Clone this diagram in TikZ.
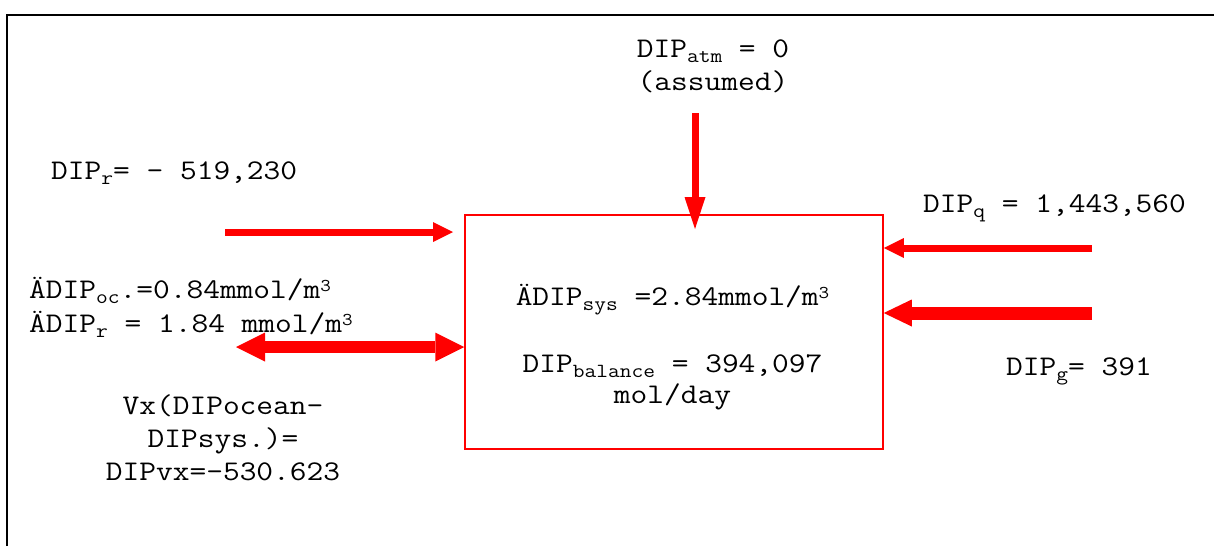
\documentclass[tikz,border=0pt]{standalone}
\usepackage{fontspec}
\setmainfont[FakeStretch=1.14]{Latin Modern Mono}
\usetikzlibrary{arrows.meta}

% lowered and raised small text for indices and exponents
\newcommand{\lowtxt}[1]{\raisebox{-5pt}{\fontsize{20}{20}\selectfont #1}}
\newcommand{\hightxt}[1]{\raisebox{7pt}{\fontsize{18}{18}\selectfont #1}}

\begin{document}
\begin{tikzpicture}[x=1pt, y=-1pt,
  label/.style={inner sep=0pt, font=\fontsize{28.5}{33}\selectfont},
  flowthin/.style={draw=red, line width=7pt},
  flowthick/.style={draw=red, line width=13pt},
  tipA/.tip={Triangle[length=20pt, width=20pt, line width=0pt]},
  tipB/.tip={Triangle[length=29pt, width=29pt, line width=0pt]}]

\useasboundingbox (0,0) rectangle (1214,546);

% outer frame (open towards right and bottom)
\draw[line width=2pt, black] (7,546) -- (7,15) -- (1214,15);

% the system box
\node[draw=red, line width=1.5pt, minimum width=418pt, minimum height=234pt, inner sep=0pt]
  (sys) at (674,332) {};

% texts (multi-line nodes are placed by the baseline of their last line)
\node[label, align=center, anchor=base] (atmText) at (713,90)
  {DIP\lowtxt{atm} = 0\\(assumed)};
\node[label, anchor=base west] (rText) at (51,179)
  {DIP\lowtxt{r}= - 519,230};
\node[label, align=left, anchor=base west] (ocText) at (29,332)
  {ÄDIP\lowtxt{oc}.=0.84mmol/m\hightxt{3}\\[1pt]ÄDIP\lowtxt{r} = 1.84 mmol/m\hightxt{3}};
\node[label, align=center, anchor=base] (vxText) at (223,480)
  {Vx(DIPocean-\\DIPsys.)=\\DIPvx=-530.623};
\node[label, align=center, anchor=base] (sysText) at (672.5,403)
  {ÄDIP\lowtxt{sys} =2.84mmol/m\hightxt{3}\\[34pt]DIP\lowtxt{balance} = 394,097\\[-2pt]mol/day};
\node[label, anchor=base west] (qText) at (923,212)
  {DIP\lowtxt{q} = 1,443,560};
\node[label, anchor=base west] (gText) at (1006,375)
  {DIP\lowtxt{g}= 391};

% flux arrows
\coordinate (atmTail) at (695,113);
\coordinate (atmTip)  at (695,229);
\draw[flowthin, -{Triangle[length=32pt, width=21pt, line width=0pt]}] (atmTail) -- (atmTip);

\coordinate (rTail) at (225,232);
\coordinate (rTip)  at (453,232);
\draw[flowthin, -tipA] (rTail) -- (rTip);

\coordinate (ocEnd) at (236,347);
\draw[draw=red, line width=12pt, tipB-tipB] (ocEnd) -- (sys.west |- ocEnd);

\coordinate (qTail) at (1092,248);
\draw[flowthin, -tipA] (qTail) -- (sys.east |- qTail);

\coordinate (gTail) at (1092,313);
\draw[flowthick, -{Triangle[length=28pt, width=27pt, line width=0pt]}] (gTail) -- (sys.east |- gTail);

\end{tikzpicture}
\end{document}
